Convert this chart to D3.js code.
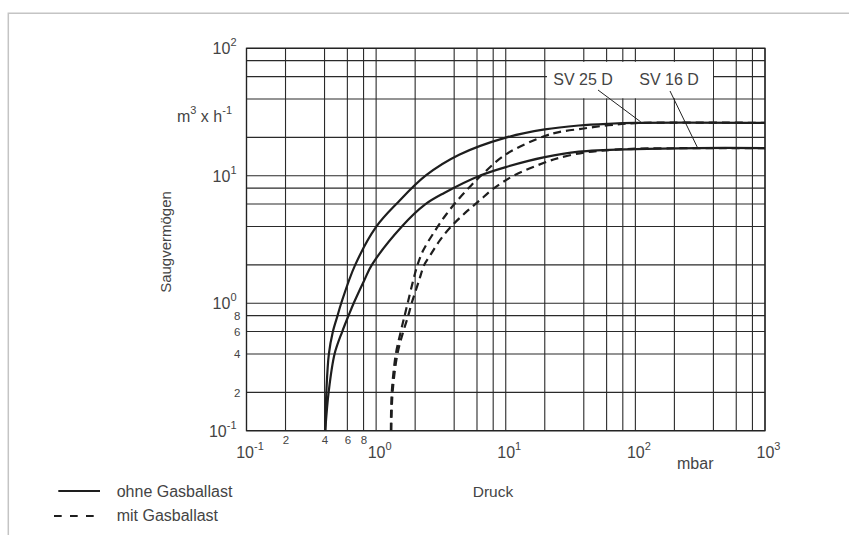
<!DOCTYPE html>
<html>
<head>
<meta charset="utf-8">
<script src="https://cdn.jsdelivr.net/npm/d3@7"></script>
<style>
  html, body { margin: 0; padding: 0; background: #fff; }
  svg { display: block; }
  text { font-family: "Liberation Sans", Arial, sans-serif; fill: #444; }
</style>
</head>
<body>
<svg id="chart" width="849" height="535"></svg>
<script>
// ---- data (pressure in mbar, pumping speed in m³/h) ----
const sv25OhneP = [0.405, 0.413, 0.432, 0.464, 0.504, 0.538, 0.687, 1.0, 1.484, 2.42, 4.37, 10, 20, 36.6, 62, 100, 1000];
const sv25OhneS = [0.1, 0.2, 0.4, 0.6, 0.8, 1.0, 1.98, 3.97, 6.23, 10.05, 14.6, 19.9, 23.1, 24.8, 25.6, 26.0, 26.0];

const sv16OhneP = [0.405, 0.43, 0.478, 0.548, 0.613, 0.671, 0.809, 0.927, 1.58, 2.39, 3.35, 6.23, 10, 20, 36.6, 100, 300, 1000];
const sv16OhneS = [0.1, 0.2, 0.4, 0.6, 0.8, 1.0, 1.51, 2.0, 4.0, 5.96, 7.33, 9.96, 11.7, 14.0, 15.45, 16.2, 16.5, 16.5];

const sv25MitP = [1.30, 1.32, 1.42, 1.55, 1.66, 1.75, 1.93, 2.085, 2.31, 2.81, 3.47, 4.37, 5.41, 6.46, 10, 20, 25.7, 40, 62, 100, 1000];
const sv25MitS = [0.1, 0.2, 0.4, 0.6, 0.8, 1.0, 1.5, 2.0, 2.6, 3.63, 4.97, 6.64, 8.4, 10.05, 14.7, 20.5, 22.0, 23.5, 24.9, 25.9, 26.0];

const sv16MitP = [1.31, 1.34, 1.46, 1.62, 1.77, 1.88, 2.14, 2.35, 2.62, 3.12, 3.86, 4.86, 6.23, 7.98, 11.6, 20, 25.7, 40, 62, 100, 1000];
const sv16MitS = [0.1, 0.2, 0.4, 0.6, 0.8, 1.0, 1.5, 2.0, 2.39, 3.14, 4.08, 5.11, 6.35, 7.88, 10.05, 12.7, 13.8, 15.2, 15.9, 16.3, 16.5];

const gridMult = [1, 2, 4, 6, 8];
const xDecades = [-1, 0, 1, 2];
const yDecades = [-1, 0, 1];
const xMajorExp = [-1, 0, 1, 2, 3];
const yMajorExp = [-1, 0, 1, 2];
const xMinorLabels = [0.2, 0.4, 0.6, 0.8];
const yMinorLabels = [0.2, 0.4, 0.6, 0.8];
const seriesNames = ["SV 25 D", "SV 16 D"];
const legendLabels = ["ohne Gasballast", "mit Gasballast"];

// ---- scales ----
const svg = d3.select("#chart");
const x = d3.scaleLog().domain([0.1, 1000]).range([246.5, 765]);
const y = d3.scaleLog().domain([0.1, 100]).range([430.7, 48.3]);

const xGrid = [];
xDecades.forEach(d => gridMult.forEach(m => xGrid.push(m * Math.pow(10, d))));
xGrid.push(1000);
const yGrid = [];
yDecades.forEach(d => gridMult.forEach(m => yGrid.push(m * Math.pow(10, d))));
yGrid.push(100);

// outer frame
svg.append("path").attr("d", "M8.3,535 L8.3,13.3 L849,13.3")
  .attr("fill", "none").attr("stroke", "#c4c4c4").attr("stroke-width", 1.5);

// grid
const g = svg.append("g");
g.selectAll("line.vx").data(xGrid).join("line")
  .attr("x1", d => x(d)).attr("x2", d => x(d))
  .attr("y1", y(0.1)).attr("y2", y(100))
  .attr("stroke", "#2a2a2a").attr("stroke-width", 1.1);
g.selectAll("line.hy").data(yGrid).join("line")
  .attr("y1", d => y(d)).attr("y2", d => y(d))
  .attr("x1", x(0.1)).attr("x2", x(1000))
  .attr("stroke", "#2a2a2a").attr("stroke-width", 1.1);
g.append("rect").attr("x", x(0.1)).attr("y", y(100))
  .attr("width", x(1000) - x(0.1)).attr("height", y(0.1) - y(100))
  .attr("fill", "none").attr("stroke", "#222").attr("stroke-width", 1.3);

// label box (white background over grid)
svg.append("rect").attr("x", 547).attr("y", y(80) + 1.2).attr("width", 166).attr("height", y(40) - y(80) - 2)
  .attr("fill", "#fff");

// ---- axes (tick labels via d3 axes) ----
function supLabels(sel, exps) {
  sel.selectAll(".tick text").each(function(d, i) {
    const t = d3.select(this);
    t.text(null);
    t.append("tspan").text("10");
    t.append("tspan").attr("dy", -8).attr("font-size", 11).text(String(exps[i]));
  });
}
const xMajorVals = xMajorExp.map(e => Math.pow(10, e));
const xAxisMajor = svg.append("g").attr("transform", `translate(0,${y(0.1)})`)
  .call(d3.axisBottom(x).tickValues(xMajorVals).tickSize(0).tickPadding(0).tickFormat(() => ""));
xAxisMajor.select(".domain").remove();
xAxisMajor.selectAll(".tick text").attr("y", 27).attr("dy", 0).attr("font-size", 16).attr("fill", "#444")
  .attr("font-family", "Liberation Sans, Arial, sans-serif");
supLabels(xAxisMajor, xMajorExp);
xAxisMajor.selectAll(".tick text").attr("dx", 3);

const xAxisMinor = svg.append("g").attr("transform", `translate(0,${y(0.1)})`)
  .call(d3.axisBottom(x).tickValues(xMinorLabels).tickSize(0).tickPadding(0).tickFormat(d => String(Math.round(d * 10))));
xAxisMinor.select(".domain").remove();
xAxisMinor.selectAll(".tick text").attr("y", 13.5).attr("dy", 0).attr("font-size", 11.5).attr("fill", "#555")
  .attr("font-family", "Liberation Sans, Arial, sans-serif");

const yMajorVals = yMajorExp.map(e => Math.pow(10, e));
const yAxisMajor = svg.append("g").attr("transform", `translate(${x(0.1)},0)`)
  .call(d3.axisLeft(y).tickValues(yMajorVals).tickSize(0).tickPadding(0).tickFormat(() => ""));
yAxisMajor.select(".domain").remove();
yAxisMajor.selectAll(".tick text").attr("x", -10).attr("dy", 5.5).attr("font-size", 16).attr("fill", "#444")
  .attr("font-family", "Liberation Sans, Arial, sans-serif");
supLabels(yAxisMajor, yMajorExp);

const yAxisMinor = svg.append("g").attr("transform", `translate(${x(0.1)},0)`)
  .call(d3.axisLeft(y).tickValues(yMinorLabels).tickSize(0).tickPadding(0).tickFormat(d => String(Math.round(d * 10))));
yAxisMinor.select(".domain").remove();
yAxisMinor.selectAll(".tick text").attr("x", -6).attr("dy", 4).attr("font-size", 11.5).attr("fill", "#555")
  .attr("text-anchor", "end").attr("font-family", "Liberation Sans, Arial, sans-serif");

// axis titles
svg.append("text").attr("x", 677).attr("y", 469).attr("font-size", 16).text("mbar");
svg.append("text").attr("x", 493).attr("y", 497).attr("text-anchor", "middle").attr("font-size", 15.5).text("Druck");
svg.append("text").attr("transform", "translate(171,242) rotate(-90)").attr("text-anchor", "middle")
  .attr("font-size", 15).text("Saugvermögen");
const unit = svg.append("text").attr("x", 232).attr("y", 122).attr("text-anchor", "end").attr("font-size", 16);
unit.append("tspan").text("m");
unit.append("tspan").attr("dy", -8).attr("font-size", 11).text("3");
unit.append("tspan").attr("dy", 8).text(" x h");
unit.append("tspan").attr("dy", -8).attr("font-size", 11).text("-1");

// series labels
svg.append("text").attr("x", 583).attr("y", 85).attr("text-anchor", "middle").attr("font-size", 16).text(seriesNames[0]);
svg.append("text").attr("x", 669).attr("y", 85).attr("text-anchor", "middle").attr("font-size", 16).text(seriesNames[1]);
// leader lines (anchored to curve plateaus via scales)
svg.append("line").attr("x1", 598).attr("y1", 90).attr("x2", x(110)).attr("y2", y(26) - 1)
  .attr("stroke", "#222").attr("stroke-width", 1);
svg.append("line").attr("x1", 670).attr("y1", 91).attr("x2", x(300)).attr("y2", y(16.5) - 1)
  .attr("stroke", "#222").attr("stroke-width", 1);

// ---- curves ----
const line = d3.line().x(d => x(d[0])).y(d => y(d[1])).curve(d3.curveCatmullRom.alpha(0.5));
function draw(P, S, dashed) {
  svg.append("path").datum(P.map((p, i) => [p, S[i]]))
    .attr("d", line).attr("fill", "none").attr("stroke", "#1e1e1e")
    .attr("stroke-width", 2.2).attr("stroke-dasharray", dashed ? "8,5" : null);
}
draw(sv25MitP, sv25MitS, true);
draw(sv16MitP, sv16MitS, true);
draw(sv25OhneP, sv25OhneS, false);
draw(sv16OhneP, sv16OhneS, false);

// ---- legend ----
svg.append("line").attr("x1", 58.3).attr("x2", 100).attr("y1", 491).attr("y2", 491)
  .attr("stroke", "#1e1e1e").attr("stroke-width", 2.2);
svg.append("text").attr("x", 116.7).attr("y", 497).attr("font-size", 16).text(legendLabels[0]);
svg.append("line").attr("x1", 54).attr("x2", 96).attr("y1", 516).attr("y2", 516)
  .attr("stroke", "#1e1e1e").attr("stroke-width", 2.2).attr("stroke-dasharray", "7.7,8.3");
svg.append("text").attr("x", 116.7).attr("y", 521).attr("font-size", 16).text(legendLabels[1]);
</script>
</body>
</html>
